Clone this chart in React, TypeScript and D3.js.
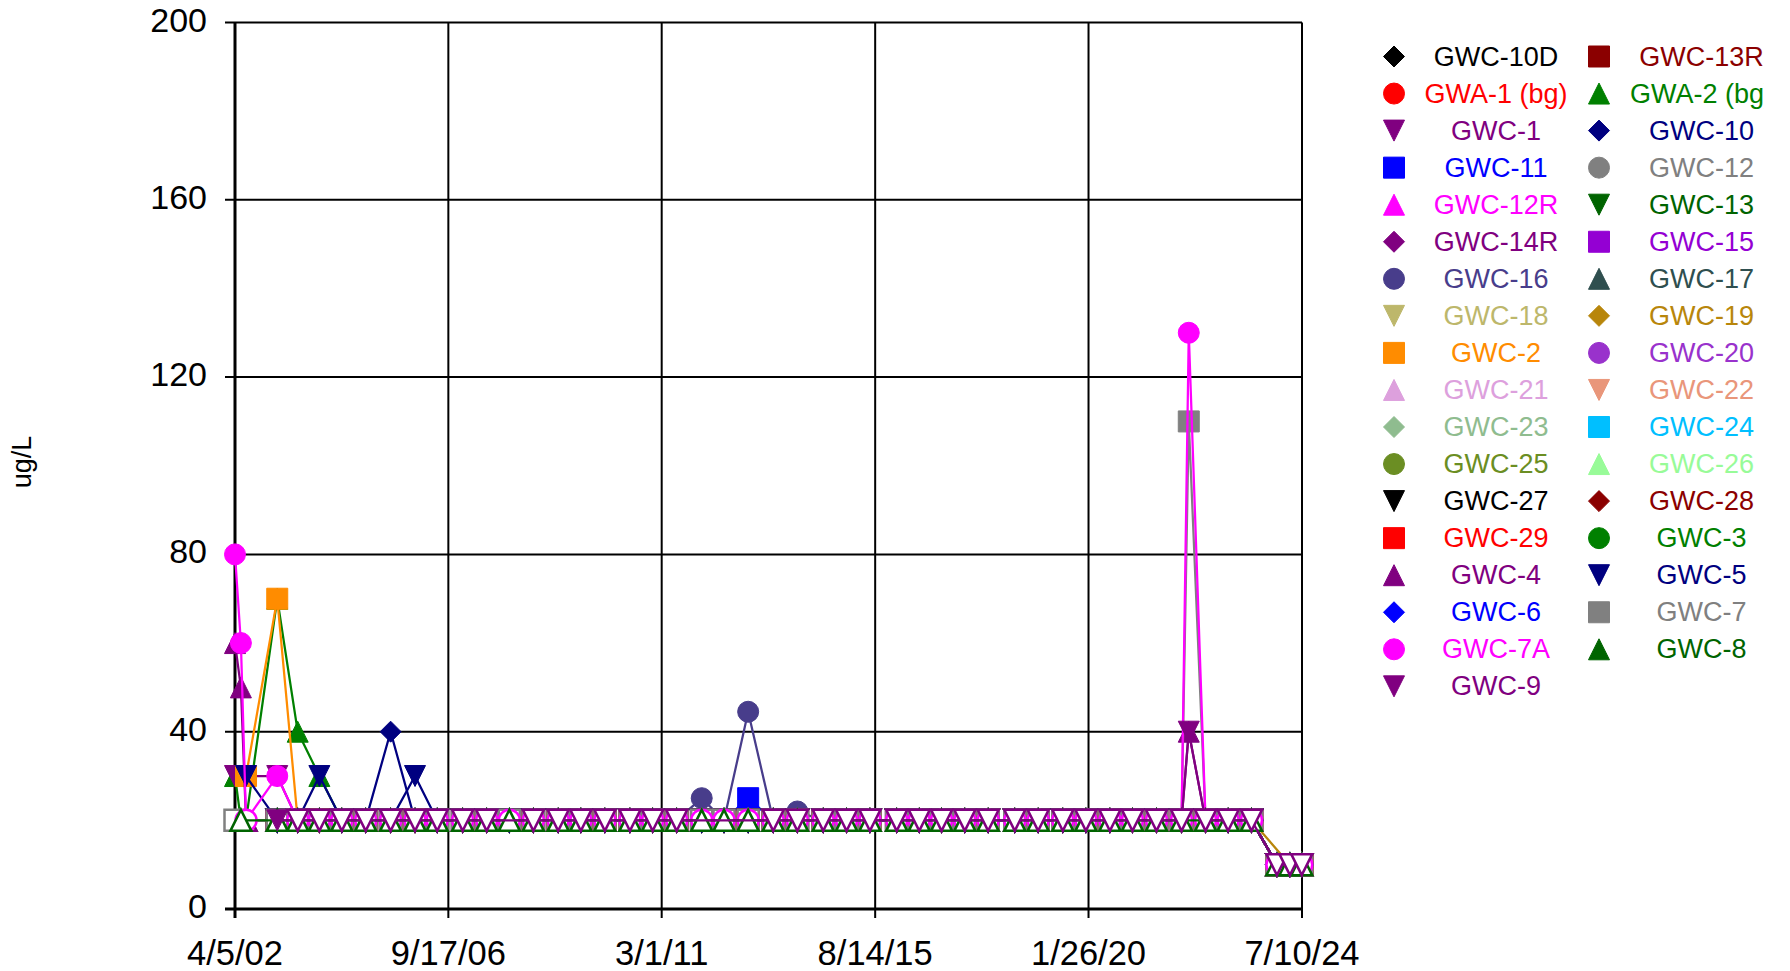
import React from "react";
import * as d3 from "d3";

const dates = [
  "2002-04-05", "2002-05-20", "2002-06-28", "2003-02-21", "2003-07-27", "2004-01-08", "2004-06-27", "2004-12-26", "2005-07-04", "2006-01-06",
  "2006-06-24", "2007-01-04", "2007-07-06", "2007-12-26", "2008-06-26", "2009-01-01", "2009-06-23", "2009-12-23", "2010-07-02", "2010-12-22",
  "2011-06-23", "2011-12-31", "2012-06-18", "2012-12-19", "2013-06-28", "2013-12-29", "2014-07-14", "2015-01-08", "2015-07-05", "2016-01-25",
  "2016-07-15", "2017-01-01", "2017-06-27", "2017-12-22", "2018-07-13", "2019-01-07", "2019-07-14", "2020-01-06", "2020-07-07", "2020-12-26",
  "2021-06-27", "2022-01-04", "2022-02-28", "2022-07-06", "2022-12-25", "2023-06-21", "2024-01-01", "2024-04-09", "2024-07-08",
];

const seriesNames = [
  "GWC-10D", "GWC-13R", "GWA-1 (bg)", "GWA-2 (bg)", "GWC-1", "GWC-10", "GWC-11", "GWC-12", "GWC-12R", "GWC-13",
  "GWC-14R", "GWC-15", "GWC-16", "GWC-17", "GWC-18", "GWC-19", "GWC-2", "GWC-20", "GWC-21", "GWC-22",
  "GWC-23", "GWC-24", "GWC-25", "GWC-26", "GWC-27", "GWC-28", "GWC-29", "GWC-3", "GWC-4", "GWC-5",
  "GWC-6", "GWC-7", "GWC-7A", "GWC-8", "GWC-9",
];
const seriesColors = [
  "#000000", "#8B0000", "#FF0000", "#008000", "#800080", "#000080", "#0000FF", "#808080", "#FF00FF", "#006400",
  "#800080", "#9400D3", "#483D8B", "#2F4F4F", "#BDB76B", "#B8860B", "#FF8C00", "#9932CC", "#DDA0DD", "#E9967A",
  "#8FBC8F", "#00BFFF", "#6B8E23", "#98FB98", "#000000", "#8B0000", "#FF0000", "#008000", "#800080", "#000080",
  "#0000FF", "#808080", "#FF00FF", "#006400", "#800080",
];
const seriesShapes = [
  "diamond", "square", "circle", "up", "down", "diamond", "square", "circle", "up", "down",
  "diamond", "square", "circle", "up", "down", "diamond", "square", "circle", "up", "down",
  "diamond", "square", "circle", "up", "down", "diamond", "square", "circle", "up", "down",
  "diamond", "square", "circle", "up", "down",
];

// "<x" = non-detect (hollow marker), number = detected, null = not sampled
const GWC_10D = [
  null, null, null, "<20", "<20", "<20", "<20", "<20", "<20", "<20",
  "<20", "<20", "<20", "<20", "<20", "<20", "<20", "<20", "<20", "<20",
  "<20", "<20", "<20", "<20", "<20", "<20", "<20", "<20", "<20", "<20",
  "<20", "<20", "<20", "<20", "<20", "<20", "<20", "<20", "<20", "<20",
  "<20", "<20", null, "<20", "<20", "<20", "<10", "<10", "<10",
];
const GWC_13R = [
  null, null, null, "<20", "<20", "<20", "<20", "<20", "<20", "<20",
  "<20", "<20", "<20", "<20", "<20", "<20", "<20", "<20", "<20", "<20",
  "<20", "<20", "<20", "<20", "<20", "<20", "<20", "<20", "<20", "<20",
  "<20", "<20", "<20", "<20", "<20", "<20", "<20", "<20", "<20", "<20",
  "<20", "<20", null, "<20", "<20", "<20", "<10", "<10", "<10",
];
const GWA_1 = [
  null, null, null, "<20", "<20", "<20", "<20", "<20", "<20", "<20",
  "<20", "<20", "<20", "<20", "<20", "<20", "<20", "<20", "<20", "<20",
  "<20", "<20", "<20", "<20", "<20", "<20", "<20", "<20", "<20", "<20",
  "<20", "<20", "<20", "<20", "<20", "<20", "<20", "<20", "<20", "<20",
  "<20", "<20", null, "<20", "<20", "<20", "<10", "<10", "<10",
];
const GWA_2 = [
  30, "<20", "<20", 70, 40, 30, "<20", "<20", "<20", "<20",
  "<20", "<20", "<20", "<20", "<20", "<20", "<20", "<20", "<20", "<20",
  "<20", "<20", "<20", "<20", "<20", "<20", "<20", "<20", "<20", "<20",
  "<20", "<20", "<20", "<20", "<20", "<20", "<20", "<20", "<20", "<20",
  "<20", "<20", null, "<20", "<20", "<20", "<10", "<10", "<10",
];
const GWC_1 = [
  30, null, null, 30, "<20", "<20", "<20", "<20", "<20", "<20",
  "<20", "<20", "<20", "<20", "<20", "<20", "<20", "<20", "<20", "<20",
  "<20", "<20", "<20", "<20", "<20", "<20", "<20", "<20", "<20", "<20",
  "<20", "<20", "<20", "<20", "<20", "<20", "<20", "<20", "<20", "<20",
  "<20", "<20", null, "<20", "<20", "<20", "<10", "<10", "<10",
];
const GWC_10 = [
  null, null, null, "<20", "<20", "<20", "<20", "<20", 40, "<20",
  "<20", "<20", "<20", "<20", "<20", "<20", "<20", "<20", "<20", "<20",
  "<20", "<20", "<20", "<20", "<20", "<20", "<20", "<20", "<20", "<20",
  "<20", "<20", "<20", "<20", "<20", "<20", "<20", "<20", "<20", "<20",
  "<20", "<20", null, "<20", "<20", "<20", "<10", "<10", "<10",
];
const GWC_11 = [
  null, null, null, "<20", "<20", "<20", "<20", "<20", "<20", "<20",
  "<20", "<20", "<20", "<20", "<20", "<20", "<20", "<20", "<20", "<20",
  "<20", "<20", "<20", 25, "<20", "<20", "<20", "<20", "<20", "<20",
  "<20", "<20", "<20", "<20", "<20", "<20", "<20", "<20", "<20", "<20",
  "<20", "<20", null, "<20", "<20", "<20", "<10", "<10", "<10",
];
const GWC_12 = [
  null, null, null, "<20", "<20", "<20", "<20", "<20", "<20", "<20",
  "<20", "<20", "<20", "<20", "<20", "<20", "<20", "<20", "<20", "<20",
  "<20", "<20", "<20", "<20", "<20", "<20", "<20", "<20", "<20", "<20",
  "<20", "<20", "<20", "<20", "<20", "<20", "<20", "<20", "<20", "<20",
  "<20", "<20", null, "<20", "<20", "<20", "<10", "<10", "<10",
];
const GWC_12R = [
  null, null, null, "<20", "<20", "<20", "<20", "<20", "<20", "<20",
  "<20", "<20", "<20", "<20", "<20", "<20", "<20", "<20", "<20", "<20",
  "<20", "<20", "<20", "<20", "<20", "<20", "<20", "<20", "<20", "<20",
  "<20", "<20", "<20", "<20", "<20", "<20", "<20", "<20", "<20", "<20",
  "<20", "<20", null, "<20", "<20", "<20", "<10", "<10", "<10",
];
const GWC_13 = [
  null, null, null, "<20", "<20", "<20", "<20", "<20", "<20", "<20",
  "<20", "<20", "<20", "<20", "<20", "<20", "<20", "<20", "<20", "<20",
  "<20", "<20", "<20", "<20", "<20", "<20", "<20", "<20", "<20", "<20",
  "<20", "<20", "<20", "<20", "<20", "<20", "<20", "<20", "<20", "<20",
  "<20", "<20", null, "<20", "<20", "<20", "<10", "<10", "<10",
];
const GWC_14R = [
  null, null, null, "<20", "<20", "<20", "<20", "<20", "<20", "<20",
  "<20", "<20", "<20", "<20", "<20", "<20", "<20", "<20", "<20", "<20",
  "<20", "<20", "<20", "<20", "<20", "<20", "<20", "<20", "<20", "<20",
  "<20", "<20", "<20", "<20", "<20", "<20", "<20", "<20", "<20", "<20",
  "<20", "<20", null, "<20", "<20", "<20", "<10", "<10", "<10",
];
const GWC_15 = [
  null, null, null, "<20", "<20", "<20", "<20", "<20", "<20", "<20",
  "<20", "<20", "<20", "<20", "<20", "<20", "<20", "<20", "<20", "<20",
  "<20", "<20", "<20", "<20", "<20", "<20", "<20", "<20", "<20", "<20",
  "<20", "<20", "<20", "<20", "<20", "<20", "<20", "<20", "<20", "<20",
  "<20", "<20", null, "<20", "<20", "<20", "<10", "<10", "<10",
];
const GWC_16 = [
  null, null, null, "<20", "<20", "<20", "<20", "<20", "<20", "<20",
  "<20", "<20", "<20", "<20", "<20", "<20", "<20", "<20", "<20", "<20",
  "<20", 25, "<20", 44.5, "<20", 22, "<20", "<20", "<20", "<20",
  "<20", "<20", "<20", "<20", "<20", "<20", "<20", "<20", "<20", "<20",
  "<20", "<20", null, "<20", "<20", "<20", "<10", "<10", "<10",
];
const GWC_17 = [
  null, null, null, "<20", "<20", "<20", "<20", "<20", "<20", "<20",
  "<20", "<20", "<20", "<20", "<20", "<20", "<20", "<20", "<20", "<20",
  "<20", "<20", "<20", "<20", "<20", "<20", "<20", "<20", "<20", "<20",
  "<20", "<20", "<20", "<20", "<20", "<20", "<20", "<20", "<20", "<20",
  "<20", "<20", null, "<20", "<20", "<20", "<10", "<10", "<10",
];
const GWC_18 = [
  null, null, null, "<20", "<20", "<20", "<20", "<20", "<20", "<20",
  "<20", "<20", "<20", "<20", "<20", "<20", "<20", "<20", "<20", "<20",
  "<20", "<20", "<20", "<20", "<20", "<20", "<20", "<20", "<20", "<20",
  "<20", "<20", "<20", "<20", "<20", "<20", "<20", "<20", "<20", "<20",
  "<20", "<20", null, "<20", "<20", "<20", "<10", "<10", "<10",
];
const GWC_19 = [
  null, null, null, "<20", "<20", "<20", "<20", "<20", "<20", "<20",
  "<20", "<20", "<20", "<20", "<20", "<20", "<20", "<20", "<20", "<20",
  "<20", "<20", "<20", "<20", "<20", "<20", "<20", "<20", "<20", "<20",
  "<20", "<20", "<20", "<20", "<20", "<20", "<20", "<20", "<20", "<20",
  "<20", "<20", null, "<20", "<20", "<20", null, "<10", "<10",
];
const GWC_2 = [
  null, null, 30, 70, "<20", "<20", "<20", "<20", "<20", "<20",
  "<20", "<20", "<20", "<20", "<20", "<20", "<20", "<20", "<20", "<20",
  "<20", "<20", "<20", "<20", "<20", "<20", "<20", "<20", "<20", "<20",
  "<20", "<20", "<20", "<20", "<20", "<20", "<20", "<20", "<20", "<20",
  "<20", "<20", null, "<20", "<20", "<20", "<10", "<10", "<10",
];
const GWC_20 = [
  null, null, null, "<20", "<20", "<20", "<20", "<20", "<20", "<20",
  "<20", "<20", "<20", "<20", "<20", "<20", "<20", "<20", "<20", "<20",
  "<20", "<20", "<20", "<20", "<20", "<20", "<20", "<20", "<20", "<20",
  "<20", "<20", "<20", "<20", "<20", "<20", "<20", "<20", "<20", "<20",
  "<20", "<20", null, "<20", "<20", "<20", "<10", "<10", "<10",
];
const GWC_21 = [
  null, null, null, "<20", "<20", "<20", "<20", "<20", "<20", "<20",
  "<20", "<20", "<20", "<20", "<20", "<20", "<20", "<20", "<20", "<20",
  "<20", "<20", "<20", "<20", "<20", "<20", "<20", "<20", "<20", "<20",
  "<20", "<20", "<20", "<20", "<20", "<20", "<20", "<20", "<20", "<20",
  "<20", "<20", null, "<20", "<20", "<20", "<10", "<10", "<10",
];
const GWC_22 = [
  null, null, null, "<20", "<20", "<20", "<20", "<20", "<20", "<20",
  "<20", "<20", "<20", "<20", "<20", "<20", "<20", "<20", "<20", "<20",
  "<20", "<20", "<20", "<20", "<20", "<20", "<20", "<20", "<20", "<20",
  "<20", "<20", "<20", "<20", "<20", "<20", "<20", "<20", "<20", "<20",
  "<20", "<20", null, "<20", "<20", "<20", "<10", "<10", "<10",
];
const GWC_23 = [
  null, null, null, "<20", "<20", "<20", "<20", "<20", "<20", "<20",
  "<20", "<20", "<20", "<20", "<20", "<20", "<20", "<20", "<20", "<20",
  "<20", "<20", "<20", "<20", "<20", "<20", "<20", "<20", "<20", "<20",
  "<20", "<20", "<20", "<20", "<20", "<20", "<20", "<20", "<20", "<20",
  "<20", "<20", null, "<20", "<20", "<20", "<10", "<10", "<10",
];
const GWC_24 = [
  null, null, null, "<20", "<20", "<20", "<20", "<20", "<20", "<20",
  "<20", "<20", "<20", "<20", "<20", "<20", "<20", "<20", "<20", "<20",
  "<20", "<20", "<20", "<20", "<20", "<20", "<20", "<20", "<20", "<20",
  "<20", "<20", "<20", "<20", "<20", "<20", "<20", "<20", "<20", "<20",
  "<20", "<20", null, "<20", "<20", "<20", "<10", "<10", "<10",
];
const GWC_25 = [
  null, null, null, "<20", "<20", "<20", "<20", "<20", "<20", "<20",
  "<20", "<20", "<20", "<20", "<20", "<20", "<20", "<20", "<20", "<20",
  "<20", "<20", "<20", "<20", "<20", "<20", "<20", "<20", "<20", "<20",
  "<20", "<20", "<20", "<20", "<20", "<20", "<20", "<20", "<20", "<20",
  "<20", "<20", null, "<20", "<20", "<20", "<10", "<10", "<10",
];
const GWC_26 = [
  null, null, null, "<20", "<20", "<20", "<20", "<20", "<20", "<20",
  "<20", "<20", "<20", "<20", "<20", "<20", "<20", "<20", "<20", "<20",
  "<20", "<20", "<20", "<20", "<20", "<20", "<20", "<20", "<20", "<20",
  "<20", "<20", "<20", "<20", "<20", "<20", "<20", "<20", "<20", "<20",
  "<20", "<20", null, "<20", "<20", "<20", "<10", "<10", "<10",
];
const GWC_27 = [
  null, null, null, "<20", "<20", "<20", "<20", "<20", "<20", "<20",
  "<20", "<20", "<20", "<20", "<20", "<20", "<20", "<20", "<20", "<20",
  "<20", "<20", "<20", "<20", "<20", "<20", "<20", "<20", "<20", "<20",
  "<20", "<20", "<20", "<20", "<20", "<20", "<20", "<20", "<20", "<20",
  "<20", "<20", null, "<20", "<20", "<20", "<10", "<10", "<10",
];
const GWC_28 = [
  null, null, null, "<20", "<20", "<20", "<20", "<20", "<20", "<20",
  "<20", "<20", "<20", "<20", "<20", "<20", "<20", "<20", "<20", "<20",
  "<20", "<20", "<20", "<20", "<20", "<20", "<20", "<20", "<20", "<20",
  "<20", "<20", "<20", "<20", "<20", "<20", "<20", "<20", "<20", "<20",
  "<20", "<20", null, "<20", "<20", "<20", "<10", "<10", "<10",
];
const GWC_29 = [
  null, null, null, "<20", "<20", "<20", "<20", "<20", "<20", "<20",
  "<20", "<20", "<20", "<20", "<20", "<20", "<20", "<20", "<20", "<20",
  "<20", "<20", "<20", "<20", "<20", "<20", "<20", "<20", "<20", "<20",
  "<20", "<20", "<20", "<20", "<20", "<20", "<20", "<20", "<20", "<20",
  "<20", "<20", null, "<20", "<20", "<20", "<10", "<10", "<10",
];
const GWC_3 = [
  null, null, null, "<20", "<20", "<20", "<20", "<20", "<20", "<20",
  "<20", "<20", "<20", "<20", "<20", "<20", "<20", "<20", "<20", "<20",
  "<20", "<20", "<20", "<20", "<20", "<20", "<20", "<20", "<20", "<20",
  "<20", "<20", "<20", "<20", "<20", "<20", "<20", "<20", "<20", "<20",
  "<20", "<20", null, "<20", "<20", "<20", "<10", "<10", "<10",
];
const GWC_4 = [
  60, 50, "<20", "<20", "<20", "<20", "<20", "<20", "<20", "<20",
  "<20", "<20", "<20", "<20", "<20", "<20", "<20", "<20", "<20", "<20",
  "<20", "<20", "<20", "<20", "<20", "<20", "<20", "<20", "<20", "<20",
  "<20", "<20", "<20", "<20", "<20", "<20", "<20", "<20", "<20", "<20",
  "<20", "<20", 40, "<20", "<20", "<20", "<10", "<10", "<10",
];
const GWC_5 = [
  null, null, 30, "<20", "<20", 30, "<20", "<20", "<20", 30,
  "<20", "<20", "<20", "<20", "<20", "<20", "<20", "<20", "<20", "<20",
  "<20", "<20", "<20", "<20", "<20", "<20", "<20", "<20", "<20", "<20",
  "<20", "<20", "<20", "<20", "<20", "<20", "<20", "<20", "<20", "<20",
  "<20", "<20", null, "<20", "<20", "<20", "<10", "<10", "<10",
];
const GWC_6 = [
  null, null, null, "<20", "<20", "<20", "<20", "<20", "<20", "<20",
  "<20", "<20", "<20", "<20", "<20", "<20", "<20", "<20", "<20", "<20",
  "<20", "<20", "<20", "<20", "<20", "<20", "<20", "<20", "<20", "<20",
  "<20", "<20", "<20", "<20", "<20", "<20", "<20", "<20", "<20", "<20",
  "<20", "<20", null, "<20", "<20", "<20", "<10", "<10", "<10",
];
const GWC_7 = [
  "<20", null, null, "<20", "<20", "<20", "<20", "<20", "<20", "<20",
  "<20", "<20", "<20", "<20", "<20", "<20", "<20", "<20", "<20", "<20",
  "<20", "<20", "<20", "<20", "<20", "<20", "<20", "<20", "<20", "<20",
  "<20", "<20", "<20", "<20", "<20", "<20", "<20", "<20", "<20", "<20",
  "<20", "<20", 110, "<20", "<20", "<20", "<10", "<10", "<10",
];
const GWC_7A = [
  80, 60, "<20", 30, "<20", "<20", "<20", "<20", "<20", "<20",
  "<20", "<20", "<20", "<20", "<20", "<20", "<20", "<20", "<20", "<20",
  "<20", "<20", "<20", "<20", "<20", "<20", "<20", "<20", "<20", "<20",
  "<20", "<20", "<20", "<20", "<20", "<20", "<20", "<20", "<20", "<20",
  "<20", "<20", 130, "<20", "<20", "<20", "<10", "<10", "<10",
];
const GWC_8 = [
  null, "<20", null, "<20", "<20", "<20", "<20", "<20", "<20", "<20",
  "<20", "<20", "<20", "<20", "<20", "<20", "<20", "<20", "<20", "<20",
  "<20", "<20", "<20", "<20", "<20", "<20", "<20", "<20", "<20", "<20",
  "<20", "<20", "<20", "<20", "<20", "<20", "<20", "<20", "<20", "<20",
  "<20", "<20", null, "<20", "<20", "<20", "<10", "<10", "<10",
];
const GWC_9 = [
  null, null, null, 20, "<20", "<20", "<20", "<20", "<20", "<20",
  "<20", "<20", "<20", null, "<20", "<20", "<20", "<20", "<20", "<20",
  "<20", null, null, null, "<20", "<20", "<20", "<20", "<20", "<20",
  "<20", "<20", "<20", "<20", "<20", "<20", "<20", "<20", "<20", "<20",
  "<20", "<20", 40, "<20", "<20", "<20", "<10", "<10", "<10",
];

const seriesValues = [
  GWC_10D, GWC_13R, GWA_1, GWA_2, GWC_1, GWC_10, GWC_11, GWC_12, GWC_12R, GWC_13,
  GWC_14R, GWC_15, GWC_16, GWC_17, GWC_18, GWC_19, GWC_2, GWC_20, GWC_21, GWC_22,
  GWC_23, GWC_24, GWC_25, GWC_26, GWC_27, GWC_28, GWC_29, GWC_3, GWC_4, GWC_5,
  GWC_6, GWC_7, GWC_7A, GWC_8, GWC_9,
];

const yTicks = [0, 40, 80, 120, 160, 200];
const xTickDates = ["2002-04-05", "2006-09-17", "2011-03-01", "2015-08-14", "2020-01-26", "2024-07-10"];
const xTickLabels = ["4/5/02", "9/17/06", "3/1/11", "8/14/15", "1/26/20", "7/10/24"];
const yAxisTitle = "ug/L";

const FONT = "'Liberation Sans', Arial, sans-serif";

function markerPath(shape: string, h: number): string {
  switch (shape) {
    case "diamond":
      return `M0,${-h}L${h},0L0,${h}L${-h},0Z`;
    case "square":
      return `M${-h},${-h}H${h}V${h}H${-h}Z`;
    case "up":
      return `M0,${-h}L${h},${h}L${-h},${h}Z`;
    case "down":
      return `M${-h},${-h}L${h},${-h}L0,${h}Z`;
    default:
      return `M${-h},0A${h},${h} 0 1,0 ${h},0A${h},${h} 0 1,0 ${-h},0Z`;
  }
}

export default function App() {
  const W = 1790;
  const H = 971;
  const left = 235, right = 1302, top = 22.5, bottom = 909;
  const parse = d3.utcParse("%Y-%m-%d");
  const tickDates = xTickDates.map((d) => parse(d) as Date);
  const x = d3.scaleUtc().domain([tickDates[0], tickDates[tickDates.length - 1]]).range([left, right]);
  const y = d3.scaleLinear().domain([0, 200]).range([bottom, top]);
  const parsedDates = dates.map((d) => parse(d) as Date);

  const series = seriesNames.map((name, i) => {
    const pts = seriesValues[i]
      .map((v: any, j: number) => {
        if (v === null || v === undefined) return null;
        const nd = typeof v === "string";
        const val = nd ? parseFloat((v as string).slice(1)) : (v as number);
        return { date: parsedDates[j], value: val, nd };
      })
      .filter((p: any) => p !== null) as { date: Date; value: number; nd: boolean }[];
    return { name, color: seriesColors[i], shape: seriesShapes[i], pts };
  });

  const line = d3
    .line<{ date: Date; value: number }>()
    .x((d) => x(d.date))
    .y((d) => y(d.value));

  const mh = 10.5;
  const legRow0 = 56.5;
  const legStep = 37.05;
  const legMarkerX = [1394, 1599];
  const legTextX = [1496, 1701.5];

  return (
    <svg
      width={W}
      height={H}
      style={{ position: "absolute", left: 0, top: 0, background: "#fff" }}
      fontFamily={FONT}
    >
      <defs>
        <clipPath id="legclip">
          <rect x={1340} y={0} width={424} height={H} />
        </clipPath>
      </defs>
      <rect x={0} y={0} width={W} height={H} fill="#fff" />
      {/* horizontal gridlines */}
      {yTicks.map((t) => (
        <line key={"gy" + t} x1={left - 10} x2={right} y1={y(t)} y2={y(t)} stroke="#000" strokeWidth={t === 0 ? 3 : 2} />
      ))}
      {/* vertical gridlines */}
      {tickDates.map((d, i) => (
        <line key={"gx" + i} x1={x(d)} x2={x(d)} y1={top} y2={bottom + 9} stroke="#000" strokeWidth={i === 0 ? 3 : 2} />
      ))}
      {/* y tick labels */}
      {yTicks.map((t) => (
        <text key={"ty" + t} x={207} y={y(t) - 3} textAnchor="end" dominantBaseline="central" fontSize={34} fill="#000">
          {t}
        </text>
      ))}
      {/* x tick labels */}
      {tickDates.map((d, i) => (
        <text key={"tx" + i} x={x(d)} y={965} textAnchor="middle" fontSize={34.5} fill="#000">
          {xTickLabels[i]}
        </text>
      ))}
      <text
        transform={`translate(31,462) rotate(-90)`}
        textAnchor="middle"
        fontSize={27}
        fill="#000"
      >
        {yAxisTitle}
      </text>
      {/* series */}
      {series.map((s, i) => (
        <g key={"s" + i}>
          <path d={line(s.pts) || ""} fill="none" stroke={s.color} strokeWidth={2.25} strokeLinejoin="round" />
          {s.pts.map((p, j) => (
            <path
              key={j}
              transform={`translate(${x(p.date)},${y(p.value)})`}
              d={markerPath(s.shape, mh)}
              fill={p.nd ? "#fff" : s.color}
              stroke={s.color}
              strokeWidth={p.nd ? 2.5 : 1}
              strokeLinejoin="miter"
            />
          ))}
        </g>
      ))}
      {/* legend */}
      <g clipPath="url(#legclip)">
        {series.map((s, i) => {
          const col = i % 2;
          const row = Math.floor(i / 2);
          const cy = legRow0 + row * legStep;
          return (
            <g key={"l" + i}>
              <path transform={`translate(${legMarkerX[col]},${cy})`} d={markerPath(s.shape, mh)} fill={s.color} stroke={s.color} strokeWidth={1} />
              <text x={legTextX[col]} y={cy} textAnchor="middle" dominantBaseline="central" fontSize={27} fill={s.color}>
                {s.name}
              </text>
            </g>
          );
        })}
      </g>
    </svg>
  );
}
